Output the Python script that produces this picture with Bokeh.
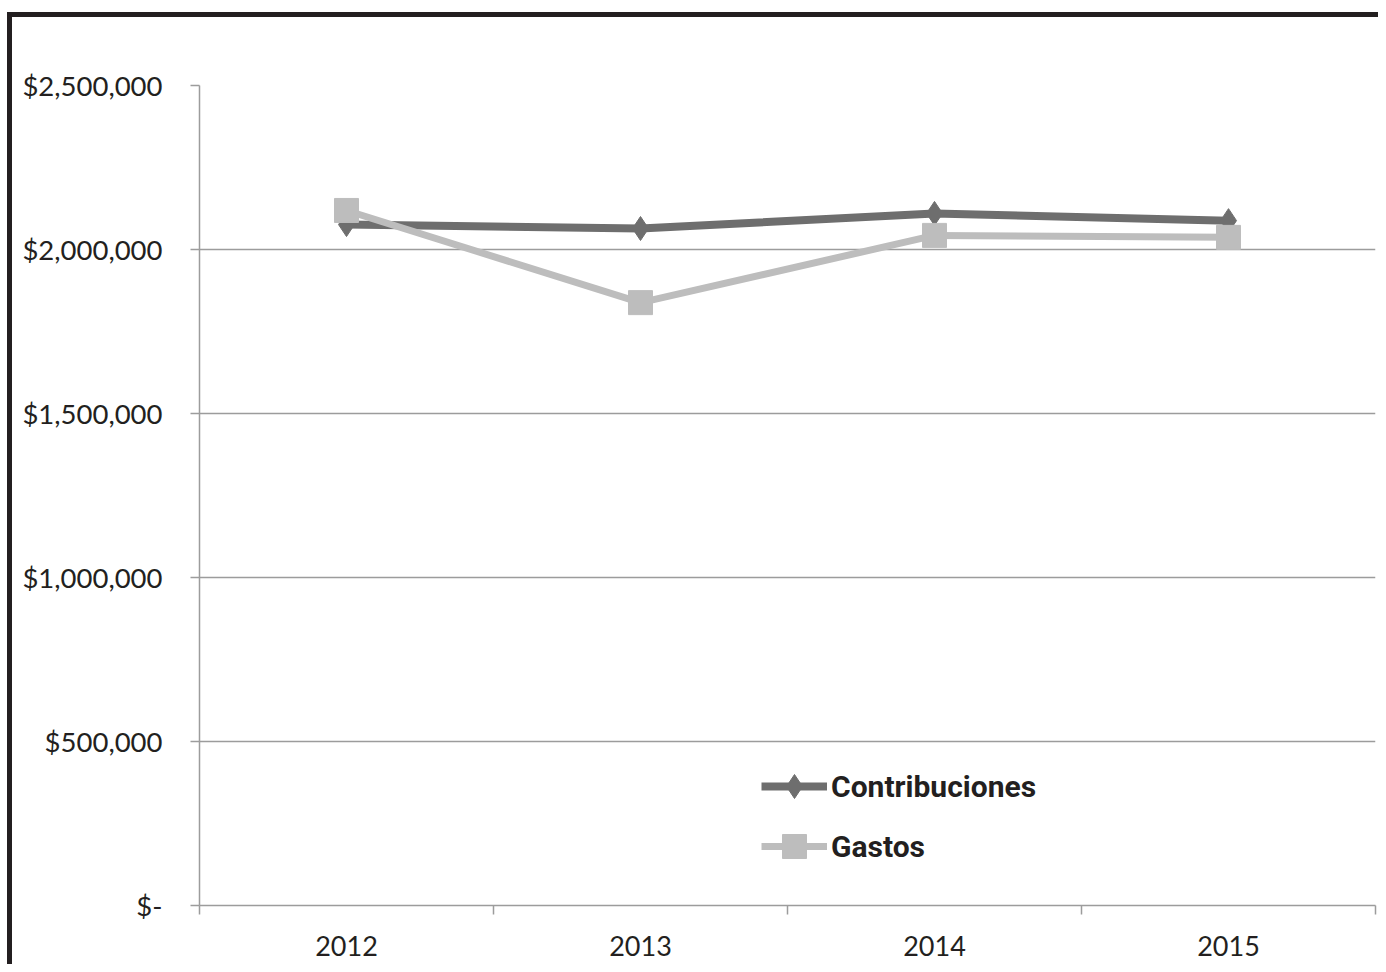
from bokeh.plotting import figure
from bokeh.models import Range1d, FixedTicker, NumeralTickFormatter, Legend, LegendItem
from bokeh.embed import file_html
from bokeh.resources import INLINE

years = ["2012", "2013", "2014", "2015"]
contribuciones = [2076000, 2064000, 2110000, 2088000]
gastos = [2119000, 1838000, 2043000, 2037000]
y_ticks = [0, 500000, 1000000, 1500000, 2000000, 2500000]

x = [i + 0.5 for i in range(len(years))]
bounds = list(range(len(years) + 1))

GRID = "#9c9c9c"
TEXT = "#231f20"
DARK = "#6e6e6e"
LIGHT = "#bdbdbd"

p = figure(width=1371, height=952,
           x_range=Range1d(0, len(years)), y_range=Range1d(0, 2500000),
           output_backend="svg", toolbar_location=None,
           min_border_left=187, min_border_right=8,
           min_border_top=68, min_border_bottom=64)
p.styles = {"border-top": "5px solid #231f20", "border-left": "5px solid #231f20",
            "margin-top": "12px", "margin-left": "7px"}
p.outline_line_color = None
p.background_fill_color = "white"
p.border_fill_color = "white"

# x axis
p.xaxis.ticker = FixedTicker(ticks=x, minor_ticks=bounds)
p.xaxis.major_label_overrides = {xi: y for xi, y in zip(x, years)}
p.xaxis.major_tick_line_color = None
p.xaxis.major_tick_out = 0
p.xaxis.major_tick_in = 0
p.xaxis.minor_tick_out = 9
p.xaxis.minor_tick_in = 0
p.xaxis.minor_tick_line_color = GRID
p.xaxis.minor_tick_line_width = 1.5
p.xaxis.axis_line_color = GRID
p.xaxis.axis_line_width = 1.5
p.xaxis.major_label_standoff = 21
p.xaxis.major_label_text_font = "Lato"
p.xaxis.major_label_text_font_size = "27px"
p.xaxis.major_label_text_color = TEXT

# y axis
p.yaxis.ticker = FixedTicker(ticks=y_ticks)
p.yaxis.formatter = NumeralTickFormatter(format="$0,0")
p.yaxis.major_label_overrides = {0: "$-"}
p.yaxis.major_tick_out = 9
p.yaxis.major_tick_in = 0
p.yaxis.major_tick_line_color = GRID
p.yaxis.major_tick_line_width = 1.5
p.yaxis.minor_tick_line_color = None
p.yaxis.axis_line_color = GRID
p.yaxis.axis_line_width = 1.5
p.yaxis.major_label_standoff = 28
p.yaxis.major_label_text_font = "Lato"
p.yaxis.major_label_text_font_size = "27.5px"
p.yaxis.major_label_text_color = TEXT

p.xgrid.visible = False
p.ygrid.grid_line_color = GRID
p.ygrid.grid_line_width = 1.5

# series
r1 = p.line(x, contribuciones, line_color=DARK, line_width=8)
m1 = p.scatter(x, contribuciones, marker="diamond", size=24,
               fill_color=DARK, line_color=DARK)
r2 = p.line(x, gastos, line_color=LIGHT, line_width=7)
m2 = p.scatter(x, gastos, marker="square", size=24,
               fill_color=LIGHT, line_color=LIGHT)

legend = Legend(items=[LegendItem(label="Contribuciones", renderers=[r1, m1]),
                       LegendItem(label="Gastos", renderers=[r2, m2])],
                location=(562, 29), orientation="vertical",
                glyph_width=66, glyph_height=60, spacing=-6, padding=0, margin=0,
                label_standoff=4, border_line_color=None, background_fill_alpha=0,
                label_text_font="Roboto", label_text_font_size="30px",
                label_text_font_style="bold", label_text_color=TEXT)
p.add_layout(legend, "center")

open("out.html", "w").write(file_html(p, INLINE))
